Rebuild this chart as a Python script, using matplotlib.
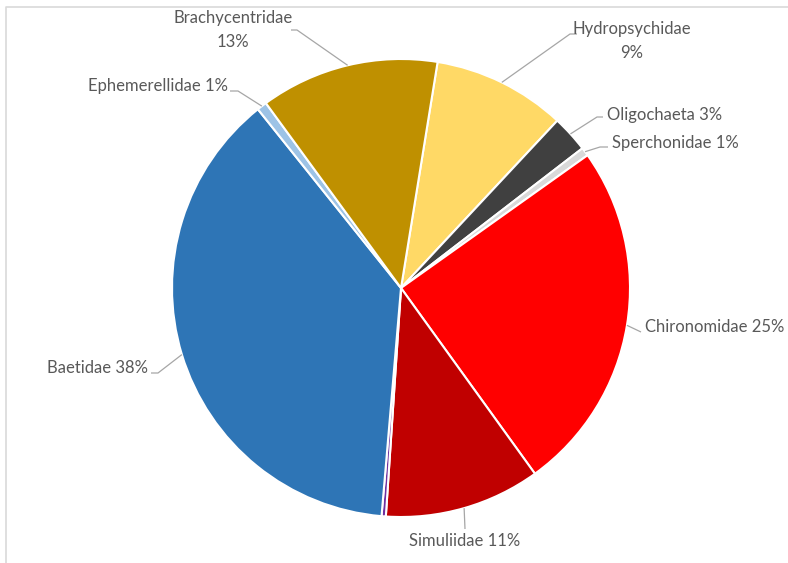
import numpy as np
import matplotlib.pyplot as plt

# slices, clockwise from the Hydropsychidae edge
families = ["Hydropsychidae", "Oligochaeta", "Sperchonidae", "Chironomidae",
            "Simuliidae", "Other", "Baetidae", "Ephemerellidae", "Brachycentridae"]
shares = [9.4, 2.6, 0.6, 24.9, 11.0, 0.3, 37.9, 0.7, 12.6]
labels = ["Hydropsychidae\n9%", "Oligochaeta 3%", "Sperchonidae 1%", "Chironomidae 25%",
          "Simuliidae 11%", "", "Baetidae 38%", "Ephemerellidae 1%", "Brachycentridae\n13%"]
colors = ["#FFD966", "#404040", "#D9D9D9", "#FF0000", "#C00000",
          "#7030A0", "#2E75B6", "#9DC3E6", "#BF9000"]

W, H = 788, 563
fig = plt.figure(figsize=(W / 100, H / 100), dpi=100)
ax = fig.add_axes([0, 0, 1, 1])

cx, cy, r = 401, H - 288, 229
wedges, _ = ax.pie(shares, colors=colors, startangle=80.8, counterclock=False,
                   center=(cx, cy), radius=r, frame=True,
                   wedgeprops=dict(edgecolor="white", linewidth=1.5))
ax.set_xlim(0, W)
ax.set_ylim(0, H)
ax.set_aspect("equal")
ax.axis("off")

# label placement (pixels from top-left): text pos, alignment, leader start, knee
layout = {
    0: ((632, 41), "center", (577, 34), (570, 34)),
    1: ((607, 115), "left", (603, 117), (597, 117)),
    2: ((612, 143), "left", (608, 147), (600, 147)),
    3: ((645, 327), "left", (641, 332), (641, 332)),
    4: ((465, 541), "center", (465, 529), (465, 529)),
    6: ((148, 368), "right", (151, 373), (158, 373)),
    7: ((228, 86), "right", (230, 91), (238, 91)),
    8: ((233, 30), "center", (291, 30), (297, 30)),
}

txt_kw = dict(color="#595959", fontsize=12, family=["Lato", "DejaVu Sans"],
              va="center", linespacing=1.55)
for i, (pos, ha, start, knee) in layout.items():
    w = wedges[i]
    mid = np.deg2rad((w.theta1 + w.theta2) / 2)
    ex, ey = cx + r * np.cos(mid), cy + r * np.sin(mid)
    ax.text(pos[0], H - pos[1], labels[i], ha=ha, multialignment="center", **txt_kw)
    ax.plot([start[0], knee[0], ex], [H - start[1], H - knee[1], ey],
            color="#A6A6A6", lw=0.9, solid_capstyle="butt")

# faint chart-area border on top and left
ax.plot([6, 6, W], [0, H - 7, H - 7], color="#D9D9D9", lw=1.2)

fig.savefig("out.png", dpi=100)
